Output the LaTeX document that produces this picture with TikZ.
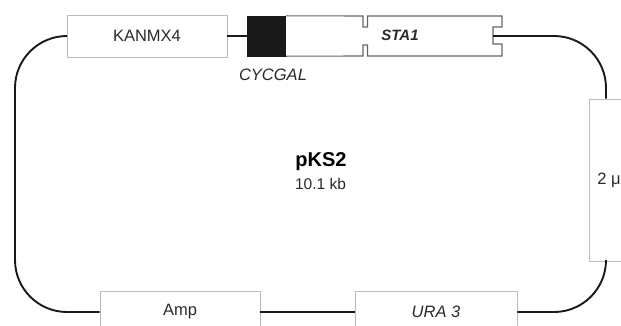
\documentclass[tikz,border=0pt]{standalone}
\usepackage{fontspec}
\setmainfont{Liberation Sans}
\usepackage{tikz}
\usetikzlibrary{positioning, calc}
\usepackage{xcolor}
\definecolor{boxgray}{HTML}{BBBBBB}
\definecolor{cdsgray}{HTML}{666666}
\definecolor{txtgray}{HTML}{2A2A2A}

\begin{document}
\begin{tikzpicture}[x=1pt, y=-1pt,
    backbone/.style={line width=1.9pt, black!90, rounded corners=52pt},
    marker/.style={draw=boxgray, line width=0.9pt, fill=white, text=txtgray,
      minimum height=42pt, inner sep=0pt, font=\fontsize{16.5}{19}\selectfont},
    promo/.style={fill=black!90, draw=black!90, minimum width=39pt, minimum height=40pt, inner sep=0pt},
    cdsline/.style={draw=cdsgray, line width=1.1pt}]
  \useasboundingbox (0,0) rectangle (621,326);
  \clip (0,0) rectangle (621,326);

  \node[marker, minimum width=160pt] (kan) at (147,36) {KANMX4};
  \node[promo] (cyc) at (266.5,36) {};
  \node[text=txtgray, font=\fontsize{16.5}{19}\selectfont\itshape, below=9pt of cyc.south, xshift=6.5pt] (cyclbl) {CYCGAL};
  \node[marker, minimum width=34pt, minimum height=162pt] (twomu) at (606,180) {\hspace*{6pt}2 μ};
  \node[marker, minimum width=160pt] (amp) at (180,312) {Amp};
  \node[marker, minimum width=162pt, font=\fontsize{16.5}{19}\selectfont\itshape] (ura) at (436,312) {URA 3};

  \draw[cdsline, fill=white] (cyc.north east) -- (363,16) -- ++(0,11) -- ++(4.5,0) -- ++(0,-11)
    -- (502,16) -- ++(0,11) -- ++(-9,0) -- ++(0,17) -- ++(9,0)
    -- (502,56) -- (367.5,56) -- ++(0,-11) -- ++(-4.5,0) -- ++(0,11) -- (cyc.south east);
  \node[text=txtgray, font=\fontsize{15}{18}\selectfont\bfseries\itshape] (sta) at (400,35) {STA1};

  \node[text=black, font=\fontsize{20}{24}\selectfont\bfseries] (name) at (321,162) {pKS2};
  \node[text=txtgray, font=\fontsize{15.5}{18}\selectfont] (size) at (320.5,184) {10.1 kb};

  \coordinate (stacut) at (493,36);
  \coordinate (tl) at (15,36);
  \coordinate (bl) at (15,312);
  \coordinate (tr) at (606,36);
  \coordinate (br) at (606,312);

  \draw[backbone] (kan.west) -- (tl) -- (bl) -- (amp.west);
  \draw[backbone] (kan.east) -- (cyc.west);
  \draw[backbone] (stacut) -- (tr) -- (twomu.north);
  \draw[backbone] (twomu.south) -- (br) -- (ura.east);
  \draw[backbone] (ura.west) -- (amp.east);
\end{tikzpicture}
\end{document}
